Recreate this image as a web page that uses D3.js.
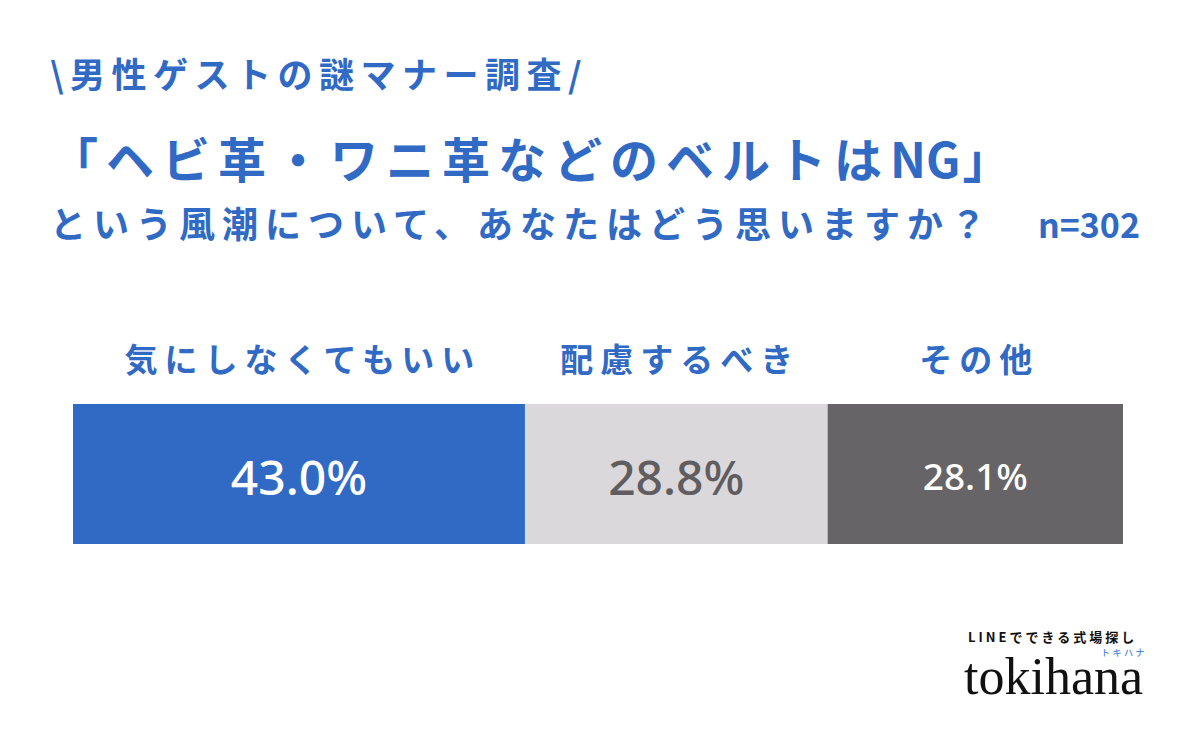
<!DOCTYPE html>
<html><head><meta charset="utf-8">
<script src="https://cdn.jsdelivr.net/npm/d3@7"></script>
<style>body{margin:0;background:#fff}svg{display:block}</style>
</head><body>
<svg id="c" width="1200" height="732"></svg>
<script>
const categories = ["気にしなくてもいい", "配慮するべき", "その他"];
const values = [43.0, 28.8, 28.1];
const valueLabels = ["43.0%", "28.8%", "28.1%"];
const colors = ["#306ac5", "#dad8da", "#666466"];
const labelColors = ["#ffffff", "#5f5d5f", "#ffffff"];
const titleLine1 = "\\男性ゲストの謎マナー調査/";
const titleLine2 = "「ヘビ革・ワニ革などのベルトはNG」";
const titleLine3 = "という風潮について、あなたはどう思いますか？";
const sampleSize = "n=302";

const svg = d3.select("#c");
const blue = "#306ac5";
const jp = "'Noto Sans CJK JP', sans-serif";

svg.append("rect").attr("width",1200).attr("height",732).attr("fill","#fff");

svg.append("text").attr("x",50).attr("y",88).text(titleLine1)
  .attr("font-family",jp).attr("font-weight",700).attr("font-size",35)
  .attr("letter-spacing",6.5).attr("fill",blue);
const t2 = svg.append("text").attr("x",50).attr("y",178)
  .attr("font-family",jp).attr("font-weight",700).attr("font-size",48)
  .attr("fill",blue);
t2.append("tspan").text(titleLine2.slice(0,15)).attr("letter-spacing",8);
t2.append("tspan").text(titleLine2.slice(15,17)).attr("letter-spacing",0);
t2.append("tspan").text(titleLine2.slice(17)).attr("dx",2);
svg.append("text").attr("x",50).attr("y",238).text(titleLine3)
  .attr("font-family",jp).attr("font-weight",700).attr("font-size",36)
  .attr("letter-spacing",7).attr("fill",blue);
svg.append("text").attr("x",1140).attr("y",238).attr("text-anchor","end").text(sampleSize)
  .attr("font-family",jp).attr("font-weight",700).attr("font-size",34)
  .attr("fill",blue);

const total = d3.sum(values);
const cum = values.map((v,i)=>d3.sum(values.slice(0,i)));
const x = d3.scaleLinear().domain([0,total]).range([73,1123]);
const barY = 404, barH = 140;

const g = svg.append("g");
g.selectAll("rect.bar").data(values).join("rect").attr("class","bar")
  .attr("x",(d,i)=>x(cum[i])).attr("width",d=>x(d)-x(0))
  .attr("y",barY).attr("height",barH)
  .attr("fill",(d,i)=>colors[i]);

g.selectAll("text.cat").data(categories).join("text").attr("class","cat")
  .attr("x",(d,i)=>x(cum[i]+values[i]/2)+4).attr("y",372)
  .attr("text-anchor","middle").text(d=>d)
  .attr("font-family",jp).attr("font-weight",700).attr("font-size",33)
  .attr("letter-spacing",7).attr("fill",blue);

g.selectAll("text.val").data(valueLabels).join("text").attr("class","val")
  .attr("x",(d,i)=>x(cum[i]+values[i]/2)).attr("y",(d,i)=>i===2?490:495)
  .attr("text-anchor","middle").text(d=>d)
  .attr("font-family","'Noto Sans', sans-serif").attr("font-weight",500)
  .attr("font-size",(d,i)=>i===2?37:48)
  .attr("fill",(d,i)=>labelColors[i]);

svg.append("text").attr("x",968).attr("y",642).text("LINEでできる式場探し")
  .attr("font-family",jp).attr("font-weight",700).attr("font-size",13)
  .attr("letter-spacing",3).attr("fill","#111");
svg.append("text").attr("x",1101).attr("y",656).text("トキハナ")
  .attr("font-family",jp).attr("font-weight",500).attr("font-size",9)
  .attr("letter-spacing",2.5).attr("fill","#4a86d6");
svg.append("text").attr("x",964).attr("y",694).text("tokihana")
  .attr("font-family","'Liberation Serif', serif").attr("font-size",52)
  .attr("fill","#111");
</script>
</body></html>
